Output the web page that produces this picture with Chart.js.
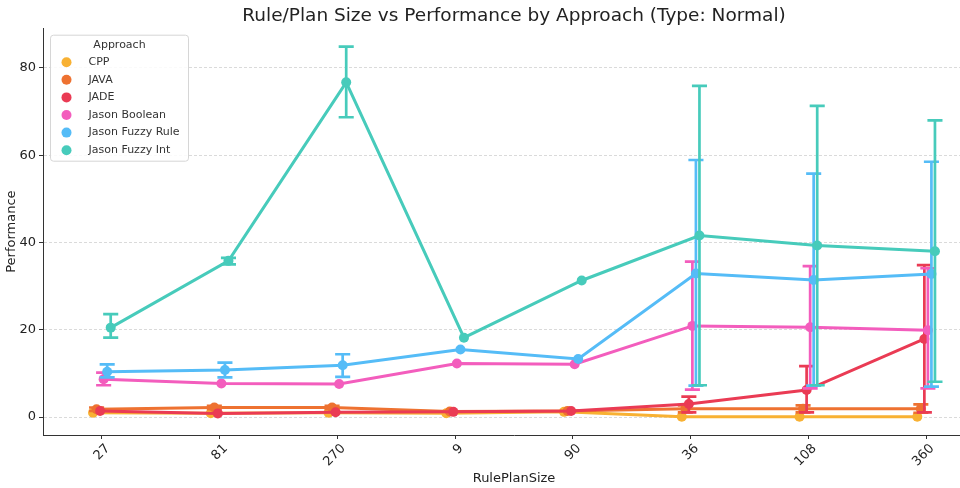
<!DOCTYPE html>
<html>
<head>
<meta charset="utf-8">
<script src="https://cdn.jsdelivr.net/npm/chart.js@4.4.1/dist/chart.umd.min.js"></script>
<style>
  html, body { margin: 0; padding: 0; background: #fff; overflow: hidden; }
  #wrap { width: 960px; height: 488px; overflow: hidden; }
  canvas { display: block; }
</style>
</head>
<body>
<div id="wrap"><canvas id="chart" width="990" height="488"></canvas></div>
<script>
const sizeLabels = ['27', '81', '270', '9', '90', '36', '108', '360'];
const approaches = ['CPP', 'JAVA', 'JADE', 'Jason Boolean', 'Jason Fuzzy Rule', 'Jason Fuzzy Int'];
const approachColors = ['#f8b133', '#ee7231', '#ea3b54', '#f35dbd', '#55bcf7', '#47cbbb'];
const yTicks = [0, 20, 40, 60, 80];

// mean performance per RulePlanSize, plus the ends of the error bars (null = no bar visible)
const cppPerf  = [1.0, 0.9, 1.0, 0.9, 1.2, 0.1, 0.1, 0.1];
const cppLow   = [null, null, null, null, null, null, null, null];
const cppHigh  = [null, null, null, null, null, null, null, null];
const javaPerf = [1.8, 2.2, 2.2, 1.3, 1.4, 1.9, 1.9, 1.9];
const javaLow  = [1.4, 1.8, 1.8, null, null, 1.1, 1.1, 1.0];
const javaHigh = [2.2, 2.6, 2.6, null, null, 2.7, 2.7, 2.9];
const jadePerf = [1.4, 0.85, 1.1, 1.2, 1.4, 3.0, 6.2, 17.9];
const jadeLow  = [null, null, null, null, null, 1.1, 1.1, 1.1];
const jadeHigh = [null, null, null, null, null, 4.7, 11.7, 34.8];
const boolPerf = [8.7, 7.7, 7.6, 12.3, 12.1, 20.9, 20.6, 19.9];
const boolLow  = [7.3, null, null, null, null, 6.3, 6.6, 6.6];
const boolHigh = [10.2, null, null, null, null, 35.6, 34.6, 34.1];
const rulePerf = [10.4, 10.8, 11.9, 15.5, 13.3, 32.9, 31.4, 32.8];
const ruleLow  = [9.1, 9.1, 9.2, null, null, 7.2, 7.2, 7.0];
const ruleHigh = [12.1, 12.5, 14.4, null, null, 58.9, 55.8, 58.5];
const intPerf  = [20.5, 35.8, 76.7, 18.2, 31.3, 41.6, 39.3, 38.0];
const intLow   = [18.2, 35.0, 68.7, null, null, 7.3, 7.3, 8.1];
const intHigh  = [23.6, 36.5, 84.9, null, null, 75.9, 71.3, 68.0];

const perfs = [cppPerf, javaPerf, jadePerf, boolPerf, rulePerf, intPerf];
const lows = [cppLow, javaLow, jadeLow, boolLow, ruleLow, intLow];
const highs = [cppHigh, javaHigh, jadeHigh, boolHigh, ruleHigh, intHigh];

const FONT = 'DejaVu Sans';
const dodge = 0.15;     // total horizontal spread of the hues
const capHalf = 0.064;  // half cap width, x units

const datasets = approaches.map((name, k) => {
  const shift = -dodge / 2 + k * dodge / (approaches.length - 1);
  return {
    label: name,
    data: perfs[k].map((v, i) => ({ x: i + shift, y: v })),
    low: lows[k],
    high: highs[k],
    shift: shift,
    borderColor: approachColors[k],
    backgroundColor: approachColors[k],
    borderWidth: 3,
    pointRadius: 5,
    pointHoverRadius: 5,
    pointBorderWidth: 0,
    tension: 0,
    order: approaches.length - 1 - k
  };
});

// error bars with caps, drawn right after each line so the stacking follows the hues
const errorBars = {
  id: 'errorBars',
  afterDatasetDraw(chart, args) {
    const ds = chart.data.datasets[args.index];
    const xs = chart.scales.x, ys = chart.scales.y;
    const ctx = chart.ctx;
    ctx.save();
    ctx.strokeStyle = ds.borderColor;
    ctx.lineWidth = 2.7;
    ds.low.forEach((lo, i) => {
      const hi = ds.high[i];
      if (lo === null || hi === null) return;
      const cx = xs.getPixelForValue(i + ds.shift);
      const half = xs.getPixelForValue(i + ds.shift + capHalf) - cx;
      const yl = ys.getPixelForValue(lo);
      const yh = ys.getPixelForValue(hi);
      ctx.beginPath();
      ctx.moveTo(cx, yl); ctx.lineTo(cx, yh);
      ctx.moveTo(cx - half, yl); ctx.lineTo(cx + half, yl);
      ctx.moveTo(cx - half, yh); ctx.lineTo(cx + half, yh);
      ctx.stroke();
    });
    ctx.restore();
  }
};

// boxed legend in the upper left of the plot, like matplotlib's
const approachLegend = {
  id: 'approachLegend',
  afterDraw(chart) {
    const ctx = chart.ctx;
    const left = chart.chartArea.left + 7.5;
    const top = chart.chartArea.top + 7;
    const w = 138, h = 126;
    ctx.save();
    ctx.beginPath();
    ctx.roundRect(left, top, w, h, 3);
    ctx.fillStyle = 'rgba(255,255,255,0.85)';
    ctx.fill();
    ctx.strokeStyle = '#d6d6d6';
    ctx.lineWidth = 1;
    ctx.stroke();
    ctx.font = '11px "' + FONT + '"';
    ctx.fillStyle = '#333';
    ctx.textBaseline = 'middle';
    ctx.textAlign = 'center';
    ctx.fillText('Approach', left + w / 2, top + 9.5);
    ctx.textAlign = 'left';
    chart.data.datasets.forEach((ds, k) => {
      const y = top + 27 + k * 17.6;
      ctx.beginPath();
      ctx.arc(left + 16, y, 5, 0, Math.PI * 2);
      ctx.fillStyle = ds.backgroundColor;
      ctx.fill();
      ctx.fillStyle = '#333';
      ctx.fillText(ds.label, left + 38, y);
    });
    ctx.restore();
  }
};

new Chart(document.getElementById('chart'), {
  type: 'line',
  data: { datasets },
  plugins: [errorBars, approachLegend],
  options: {
    responsive: false,
    animation: false,
    layout: { padding: { left: 0, right: 3, top: 0, bottom: 0 } },
    plugins: {
      legend: { display: false },
      tooltip: { enabled: false },
      title: {
        display: true,
        fullSize: false,
        text: 'Rule/Plan Size vs Performance by Approach (Type: Normal)',
        color: '#222',
        font: { family: FONT, size: 18.5, weight: 'normal' },
        padding: { top: 5, bottom: 1 }
      }
    },
    scales: {
      x: {
        type: 'linear',
        min: -0.5,
        max: 7.5,
        afterBuildTicks: (s) => { s.ticks = sizeLabels.map((_, i) => ({ value: i })); },
        afterFit: (s) => { s.height = 53; },
        ticks: {
          callback: (v) => sizeLabels[v],
          minRotation: 45,
          maxRotation: 45,
          autoSkip: false,
          labelOffset: 6,
          padding: 2,
          color: '#222',
          font: { family: FONT, size: 13 }
        },
        grid: { drawOnChartArea: false, tickLength: 4, tickColor: '#333', tickWidth: 1 },
        border: { color: '#333', width: 1 },
        title: {
          display: true,
          text: 'RulePlanSize',
          color: '#222',
          font: { family: FONT, size: 13 },
          padding: { top: 0, bottom: 2 }
        }
      },
      y: {
        type: 'linear',
        min: -4.1,
        max: 89.1,
        afterBuildTicks: (s) => { s.ticks = yTicks.map((v) => ({ value: v })); },
        afterFit: (s) => { s.width = 43; },
        ticks: { padding: 3, color: '#222', font: { family: FONT, size: 13 } },
        grid: { color: '#d0d0d0', lineWidth: 0.8, tickLength: 4, tickColor: '#333', tickWidth: 1, tickBorderDash: [] },
        border: { color: '#333', width: 1, dash: [3, 2] },
        title: {
          display: true,
          text: 'Performance',
          color: '#222',
          font: { family: FONT, size: 13 },
          padding: { top: 4, bottom: 0 }
        }
      }
    }
  }
});
</script>
</body>
</html>
